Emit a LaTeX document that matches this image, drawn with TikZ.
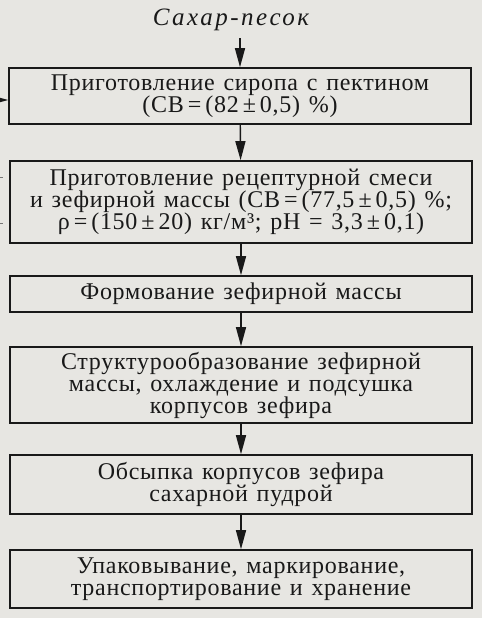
\documentclass[tikz,border=0pt]{standalone}
\usepackage{fontspec}
\setmainfont{Liberation Serif}[LetterSpace=3, WordSpace={1.3}]
\usepackage{tikz}
\usetikzlibrary{arrows.meta, positioning}
\usepackage{xcolor}
\definecolor{paper}{RGB}{231,230,226}
\definecolor{ink}{RGB}{25,25,25}

\begin{document}
\begin{tikzpicture}[x=1pt, y=-1pt,
    stage/.style={draw=ink, line width=1.6pt, text=ink, minimum width=462pt,
        align=center, inner sep=0pt, font=\fontsize{24}{22}\selectfont},
    flow/.style={draw=ink, line width=1.4pt, -{Triangle[length=19pt, width=10pt]}}]
        % Paper
        \fill[paper] (0,0) rectangle (482,618);
        \useasboundingbox (0,0) rectangle (482,618);
        \clip (0,0) rectangle (482,618);
        % Nodes
        \node[text=ink, font=\fontsize{25}{22}\itshape\addfontfeatures{LetterSpace=10}] (sugar) at (231,20) {Сахар-песок};
        \node[stage, minimum height=56pt] (syrup) at (240,96)
            {Приготовление сиропа с пектином\\(СВ\,=\,(82\,±\,0,5)~\%)};
        \node[stage, minimum height=82pt] (mass) at (241,202)
            {Приготовление рецептурной смеси\\и зефирной массы (СВ\,=\,(77,5\,±\,0,5)~\%;\\ρ\,=\,(150\,±\,20) кг/м³; pH~=~3,3\,±\,0,1)};
        \node[stage, minimum height=36pt] (forming) at (241,294) {Формование зефирной массы};
        \node[stage, minimum height=76pt] (structure) at (241,385)
            {Структурообразование зефирной\\массы, охлаждение и подсушка\\корпусов зефира};
        \node[stage, minimum height=59pt] (coating) at (241,484.5)
            {Обсыпка корпусов зефира\\сахарной пудрой};
        \node[stage, minimum height=58pt] (packing) at (241,579)
            {Упаковывание, маркирование,\\транспортирование и хранение};
        % Side inputs (cut off at the edge)
        \coordinate (in1) at (-20,100);
        \coordinate (in2) at (-20,177);
        \coordinate (in3) at (-20,223);
        % Arrows
        \draw[flow] (sugar.south -| syrup.north) ++(0,4) -- (syrup.north);
        \draw[flow] (syrup) -- (mass);
        \draw[flow] (mass) -- (forming);
        \draw[flow] (forming) -- (structure);
        \draw[flow] (structure) -- (coating);
        \draw[flow] (coating) -- (packing);
        \draw[flow] (in1) -- (in1 -| syrup.west);
        \draw[ink!60, line width=1pt] (in2) -- ++(23,0);
        \draw[ink!60, line width=1pt] (in3) -- ++(23,0);
    \end{tikzpicture}
\end{document}
